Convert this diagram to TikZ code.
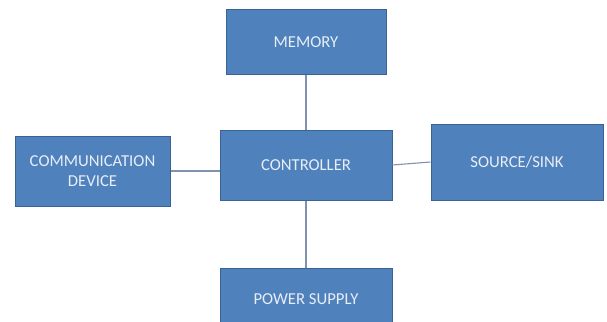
\documentclass[tikz,border=0pt]{standalone}
\usepackage{fontspec}
\setmainfont{Carlito}
\definecolor{boxfill}{HTML}{4F81BD}
\definecolor{boxline}{HTML}{3A6293}
\definecolor{linkcol}{HTML}{7F93AE}
\definecolor{txtcol}{HTML}{E8EEF7}
\begin{document}
\begin{tikzpicture}[x=1pt,y=-1pt,
  blk/.style={draw=boxline,line width=1pt,fill=boxfill,text=txtcol,font=\fontsize{16.7}{20}\selectfont,align=center,inner sep=0pt},
  link/.style={draw=linkcol,line width=1.1pt}]
\useasboundingbox (0,0) rectangle (607,321);
\clip (0,0) rectangle (607,321);
\node[blk,minimum width=160pt,minimum height=64pt] (mem) at (306,42) {MEMORY};
\node[blk,minimum width=155pt,minimum height=70pt] (comm) at (92.5,171) {COMMUNICATION\\DEVICE};
\node[blk,minimum width=172pt,minimum height=70pt] (ctrl) at (306,165) {CONTROLLER};
\node[blk,minimum width=172pt,minimum height=76pt] (src) at (517,162) {SOURCE/SINK};
\node[blk,minimum width=172pt,minimum height=62pt] (pow) at (306,299) {POWER SUPPLY};
\draw[link] (mem.south) -- (ctrl.north);
\draw[link] (comm.east) -- (ctrl.west |- comm.east);
\draw[link] (ctrl.east) -- (src.west);
\draw[link] (ctrl.south) -- (pow.north);
\end{tikzpicture}
\end{document}
